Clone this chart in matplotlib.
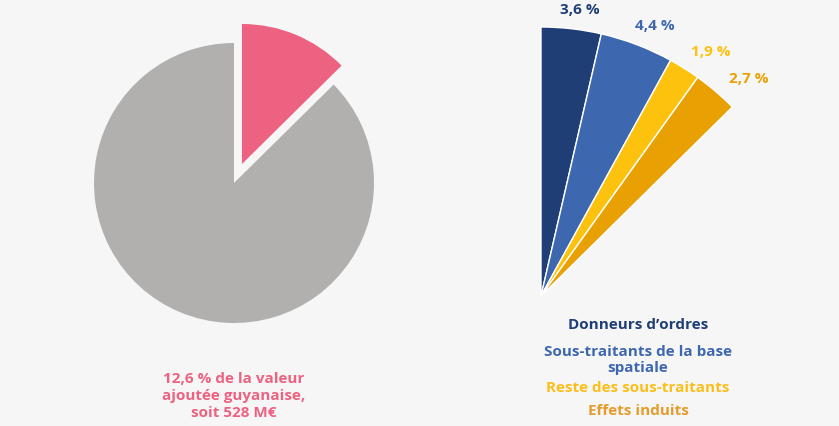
import matplotlib.pyplot as plt
import numpy as np

plt.rcParams['font.family'] = ['Open Sans', 'DejaVu Sans']

# Part de la valeur ajoutée guyanaise
share_values = [12.6, 87.4]
share_colors = ['#EC6280', '#B1B0AE']
share_text = "12,6 % de la valeur\najoutée guyanaise,\nsoit 528 M€"

# Détail de la part spatiale
detail_names = ["Donneurs d\u2019ordres", "Sous-traitants de la base\nspatiale",
                "Reste des sous-traitants", "Effets induits"]
detail_values = [3.6, 4.4, 1.9, 2.7]
detail_labels = ["3,6 %", "4,4 %", "1,9 %", "2,7 %"]
detail_colors = ['#1F3E75', '#3D67AF', '#FDC20E', '#E8A002']
detail_text_colors = ['#1F3E75', '#3D67AF', '#FBBF1A', '#E59C2A']

bg = '#F6F6F6'
W, H = 839, 426
fs = 11
fig = plt.figure(figsize=(W / 100, H / 100), dpi=100, facecolor=bg)
ax = fig.add_axes([0, 0, 1, 1])

# Camembert de gauche (explode en unités de données)
ax.pie(share_values, colors=share_colors, explode=[20.6, 0],
       startangle=90, counterclock=False, center=(234, H - 183), radius=140,
       wedgeprops=dict(linewidth=0))
ax.text(234, H - 396, share_text, color='#EC6280', fontsize=fs,
        fontweight='bold', ha='center', va='center', linespacing=1.3)

# Éventail de droite : même angle que la part rose, rayon agrandi
rest = 100 - sum(detail_values)
fan_center = (541, H - 296)
fan_r = 269
wedges, _ = ax.pie(detail_values + [rest], colors=detail_colors + ['none'],
                   startangle=90, counterclock=False, center=fan_center,
                   radius=fan_r, wedgeprops=dict(edgecolor='white', linewidth=1))
wedges[-1].set_visible(False)

cum = np.cumsum([0] + detail_values)
for i, lab in enumerate(detail_labels):
    mid = (cum[i] + cum[i + 1]) / 2 * 3.6 + 1.3 + 0.65 * i  # degrés depuis la verticale
    r = fan_r * (1.073 + 0.015 * i)
    x = fan_center[0] + r * np.sin(np.radians(mid))
    y = fan_center[1] + r * np.cos(np.radians(mid))
    ax.text(x, y, lab, color=detail_colors[i], fontsize=fs,
            fontweight='bold', ha='center', va='center')

name_y = [325, 360, 388, 411]
for name, col, y in zip(detail_names, detail_text_colors, name_y):
    ax.text(638, H - y, name, color=col, fontsize=fs, fontweight='bold',
            ha='center', va='center', linespacing=1.1)

# pie() remet les limites : on les fixe après
ax.set_xlim(0, W)
ax.set_ylim(0, H)
ax.set_aspect('equal')
ax.axis('off')

fig.savefig('out.png', dpi=100, facecolor=bg)
